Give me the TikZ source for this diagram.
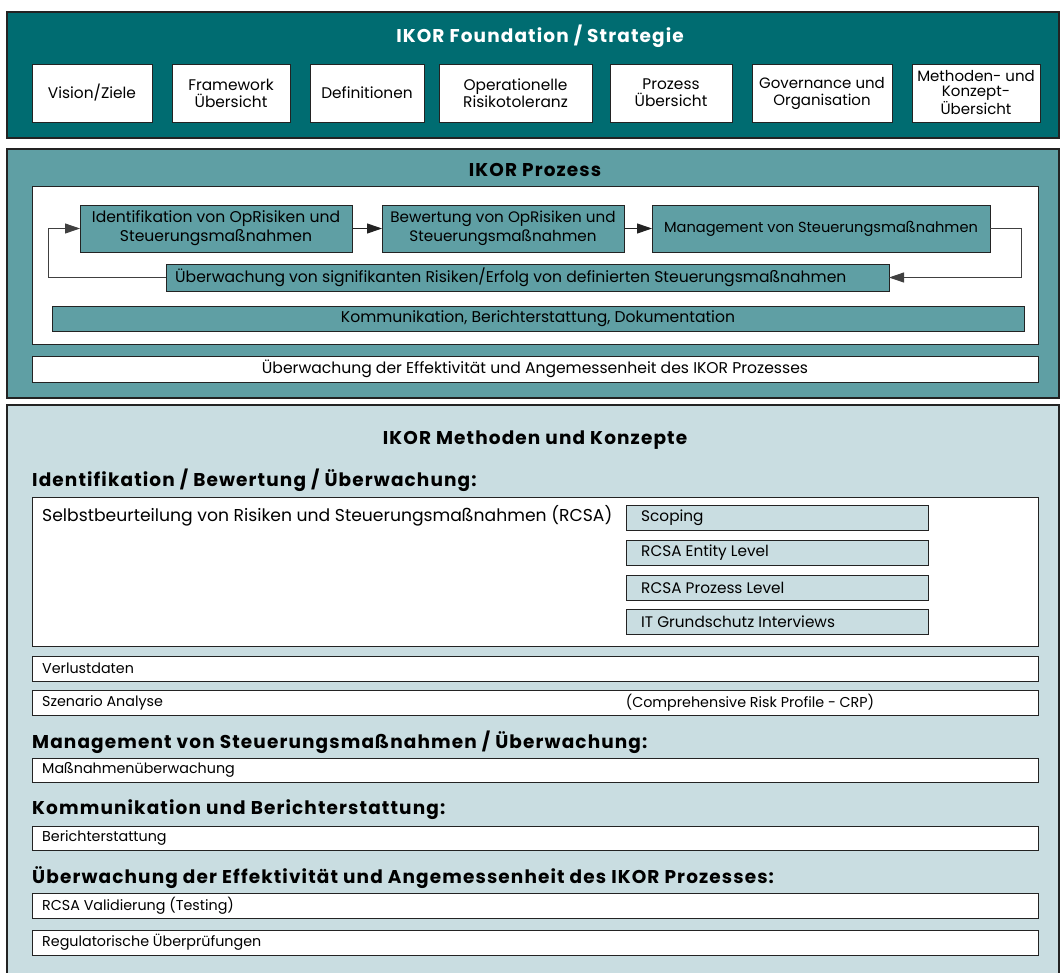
\documentclass[tikz,border=0pt]{standalone}
\usepackage{fontspec}
\setmainfont{Poppins}
\newfontfamily\headfont[LetterSpace=6,BoldFont={Poppins Bold}]{Poppins}
\usetikzlibrary{arrows.meta}
\definecolor{tealdark}{RGB}{0,108,113}
\definecolor{tealmid}{RGB}{95,159,164}
\definecolor{lightblue}{RGB}{201,221,225}
\definecolor{edge}{RGB}{35,35,35}
\begin{document}
\begin{tikzpicture}[x=1pt,y=-1pt,
  outer/.style={draw=edge,line width=1.2pt,inner sep=0pt,outer sep=0pt},
  wbox/.style={draw=edge,line width=1pt,fill=white,inner sep=0pt,outer sep=0pt,align=center},
  pbox/.style={draw=edge,line width=1pt,fill=tealmid,inner sep=0pt,outer sep=0pt,align=center},
  sbox/.style={draw=edge,line width=1pt,fill=lightblue,inner sep=0pt,outer sep=0pt},
  sz/.style 2 args={minimum width=#1,minimum height=#2},
  ttl/.style={font=\headfont\fontsize{18.5}{20}\selectfont\bfseries,inner sep=0pt},
  hd/.style={font=\headfont\fontsize{18.5}{20}\selectfont\bfseries,inner sep=0pt,anchor=west},
  tbtext/.style={font=\fontsize{15.4}{17}\selectfont},
  ptext/.style={font=\fontsize{15.6}{19}\selectfont},
  subtext/.style={font=\fontsize{15.3}{17}\selectfont,inner sep=0pt,anchor=west},
  etext/.style={font=\fontsize{14.3}{16}\selectfont,inner sep=0pt,anchor=west},
  arr/.style={draw=edge,line width=1pt,-{Triangle[length=15pt,width=10pt]}},
  loopl/.style={draw=black!75,line width=0.9pt}
]
\useasboundingbox (0,0) rectangle (1064,972);
\fill[white] (0,0) rectangle (1064,972);

% ---------- Foundation ----------
\node[outer,fill=tealdark,sz={1052pt}{126pt}] (found) at (533,75) {};
\node[ttl,text=white] (foundt) at (540,36) {IKOR Foundation / Strategie};
\node[wbox,tbtext,sz={120pt}{58pt}] (vis) at (92,93) {Vision/Ziele};
\node[wbox,tbtext,sz={118pt}{58pt}] (fw) at (231,93) {Framework\\Übersicht};
\node[wbox,tbtext,sz={114pt}{58pt}] (defn) at (367,93) {Definitionen};
\node[wbox,tbtext,sz={153pt}{58pt}] (ort) at (515.5,93) {Operationelle\\Risikotoleranz};
\node[wbox,tbtext,sz={122pt}{58pt}] (pu) at (671,93) {Prozess\\Übersicht};
\node[wbox,font=\fontsize{15}{17}\selectfont,sz={140pt}{58pt}] (gov) at (822,93) {Governance und\\Organisation};
\node[wbox,font=\fontsize{15}{15}\selectfont,sz={128pt}{58pt}] (mko) at (976,93) {Methoden- und\\Konzept-\\Übersicht};

% ---------- Prozess ----------
\node[outer,fill=tealmid,sz={1052pt}{249pt}] (proz) at (533,273.5) {};
\node[ttl] (prozt) at (535,170) {IKOR Prozess};
\node[wbox,sz={1006pt}{158pt}] (inner) at (535,265) {};
\node[pbox,ptext,sz={272pt}{47pt}] (p1) at (216,228.5) {Identifikation von OpRisiken und\\Steuerungsmaßnahmen};
\node[pbox,font=\fontsize{15.2}{19}\selectfont,sz={242pt}{47pt}] (p2) at (503,228.5) {Bewertung von OpRisiken und\\Steuerungsmaßnahmen};
\node[pbox,font=\fontsize{14.6}{19}\selectfont,sz={338pt}{47pt}] (p3) at (821,228.5) {Management von Steuerungsmaßnahmen};
\node[pbox,sz={723pt}{27pt}] (p4) at (527.5,277.5) {};
\node[ptext,inner sep=0pt,anchor=west] (p4t) at ([xshift=9pt]p4.west) {Überwachung von signifikanten Risiken/Erfolg von definierten Steuerungsmaßnahmen};
\node[pbox,ptext,sz={972pt}{25pt}] (komm) at (538,318.5) {Kommunikation, Berichterstattung, Dokumentation};
\node[wbox,ptext,sz={1006pt}{26pt}] (eff) at (535,369) {Überwachung der Effektivität und Angemessenheit des IKOR Prozesses};
\coordinate (r1) at (1021,228.5);
\coordinate (r2) at (1021,277.5);
\coordinate (l1) at (48,277.5);
\coordinate (l2) at (48,228.5);
\draw[arr] (p1.east) -- (p2.west);
\draw[arr] (p2.east) -- (p3.west);
\draw[loopl] (p3.east) -- (r1) -- (r2);
\draw[arr,draw=black!75,line width=0.9pt] (r2) -- (p4.east);
\draw[loopl] (p4.west) -- (l1) -- (l2);
\draw[arr,draw=black!75,line width=0.9pt] (l2) -- (p1.west);

% ---------- Methoden ----------
\node[outer,fill=lightblue,sz={1052pt}{580pt}] (meth) at (533,695) {};
\node[ttl] (metht) at (535,440) {IKOR Methoden und Konzepte};
\node[hd] (h1) at (32,480) {Identifikation / Bewertung / Überwachung:};
\node[wbox,sz={1006pt}{149pt}] (rcsa) at (535,571.5) {};
\node[inner sep=0pt,anchor=west,font=\fontsize{17.2}{19}\selectfont] (rcsat) at (42,516) {Selbstbeurteilung von Risiken und Steuerungsmaßnahmen (RCSA)};
\node[sbox,sz={302pt}{25pt}] (s1) at (777,517.5) {};
\node[sbox,sz={302pt}{25pt}] (s2) at (777,553) {};
\node[sbox,sz={302pt}{25pt}] (s3) at (777,587.5) {};
\node[sbox,sz={302pt}{25pt}] (s4) at (777,622) {};
\node[subtext] (s1t) at ([xshift=15pt]s1.west) {Scoping};
\node[subtext] (s2t) at ([xshift=15pt]s2.west) {RCSA Entity Level};
\node[subtext] (s3t) at ([xshift=15pt]s3.west) {RCSA Prozess Level};
\node[subtext] (s4t) at ([xshift=15pt]s4.west) {IT Grundschutz Interviews};
\node[wbox,sz={1006pt}{25pt}] (verl) at (535,668.5) {};
\node[etext] (verlt) at ([xshift=10pt]verl.west) {Verlustdaten};
\node[wbox,sz={1006pt}{25pt}] (szen) at (535,702.5) {};
\node[etext] (szent) at ([xshift=10pt]szen.west) {Szenario Analyse};
\node[inner sep=0pt,font=\fontsize{14.3}{16}\selectfont] (crp) at (750,702.5) {(Comprehensive Risk Profile - CRP)};
\node[hd] (h2) at (32,742) {Management von Steuerungsmaßnahmen / Überwachung:};
\node[wbox,sz={1006pt}{24pt}] (mass) at (535,770) {};
\node[etext] (masst) at ([xshift=10pt]mass.west) {Maßnahmenüberwachung};
\node[hd] (h3) at (32,810) {Kommunikation und Berichterstattung:};
\node[wbox,sz={1006pt}{24pt}] (ber) at (535,838) {};
\node[etext] (bert) at ([xshift=10pt]ber.west) {Berichterstattung};
\node[hd] (h4) at (32,878) {Überwachung der Effektivität und Angemessenheit des IKOR Prozesses:};
\node[wbox,sz={1006pt}{25pt}] (val) at (535,905.5) {};
\node[etext] (valt) at ([xshift=10pt]val.west) {RCSA Validierung (Testing)};
\node[wbox,sz={1006pt}{25pt}] (reg) at (535,942.5) {};
\node[etext] (regt) at ([xshift=10pt]reg.west) {Regulatorische Überprüfungen};
\end{tikzpicture}
\end{document}
